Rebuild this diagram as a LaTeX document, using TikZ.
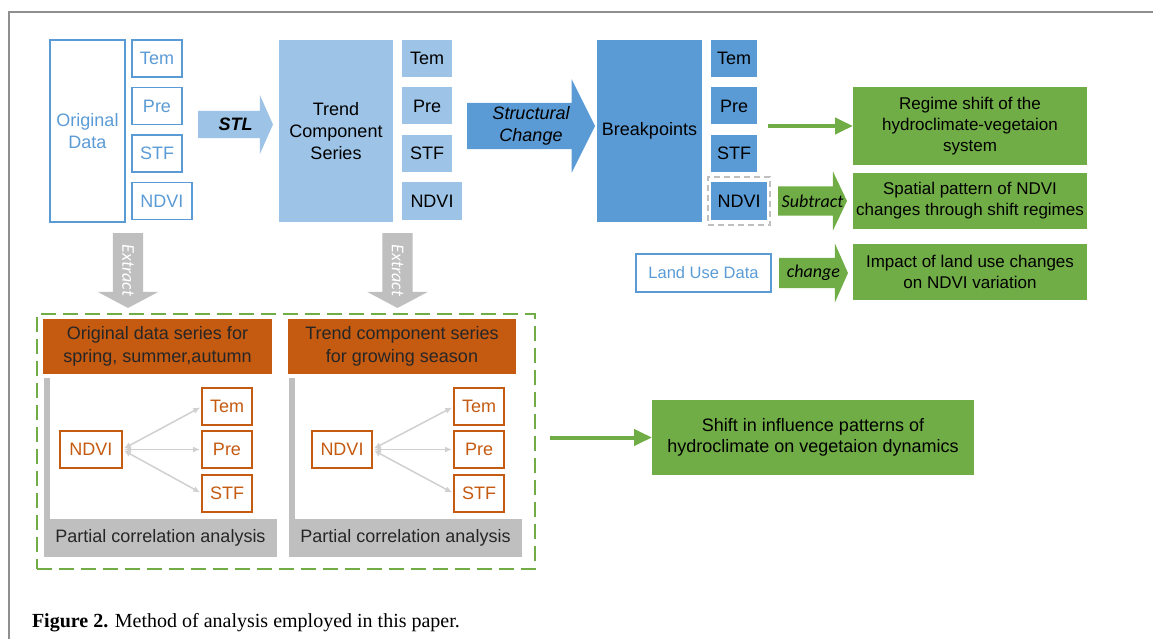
\documentclass[tikz,border=0pt]{standalone}
\usepackage{fontspec}
\setmainfont{Liberation Serif}
\setsansfont{Liberation Sans}
\newfontfamily\calfont{Carlito}
\usepackage{tikz}
\usetikzlibrary{positioning}
\usetikzlibrary{arrows.meta, shapes.arrows, calc}
\usepackage{xcolor}
\definecolor{lblue}{HTML}{9DC3E6}
\definecolor{mblue}{HTML}{5B9BD5}
\definecolor{grn}{HTML}{70AD47}
\definecolor{org}{HTML}{C55A11}
\definecolor{gry}{HTML}{BFBFBF}
\definecolor{lgry}{HTML}{D0D0D0}
\definecolor{frm}{HTML}{8F8F8F}

\begin{document}
\begin{tikzpicture}[x=1pt, y=-1pt,
  every node/.style = {font=\sffamily\fontsize{18}{21.5}\selectfont, inner sep=0, outer sep=0},
  tall/.style = {rectangle, minimum height=182, minimum width=#1, align=center},
  sm/.style = {rectangle, minimum height=37, minimum width=#1},
  sm/.default = 50,
  obox/.style = {draw=mblue, line width=1.2pt, text=mblue},
  lbox/.style = {fill=lblue},
  dbox/.style = {fill=mblue},
  gbox/.style = {fill=grn, minimum width=234, align=center, font=\sffamily\fontsize{17}{21}\selectfont},
  rbox/.style = {draw=org, line width=1.2pt, text=org, fill=white, minimum height=37},
  orbox/.style = {fill=org, text=black!85, minimum height=55, align=center, font=\sffamily\fontsize{18}{23}\selectfont},
  pcbox/.style = {fill=gry, minimum height=38, text=black!85},
  block/.style = {single arrow, inner xsep=0, anchor=tail},
  blabel/.style = {font=\calfont\itshape\fontsize{18}{21}\selectfont},
  garrow/.style = {draw=grn, line width=4pt, -{Triangle[length=18pt, width=16pt]}},
  lgarrow/.style = {draw=lgry, line width=1.5pt, {Latex[length=7pt, width=6pt]}-{Latex[length=7pt, width=6pt]}, shorten <=2pt, shorten >=2pt}]
\useasboundingbox (0,0) rectangle (1153,639);
\draw[frm, line width=1.5pt] (9,639) -- (9,12) -- (1153,12);

% original data
\node[tall=75, obox] (od) at (87.5,131) {Original\\Data};
\node[sm, obox] (t1) [right=7pt of od.north east, anchor=north west] {Tem};
\node[sm, obox] (p1) [below=10.5pt of t1] {Pre};
\node[sm, obox] (s1) [below=10.5pt of p1] {STF};
\node[sm=60, obox] (n1) [below=10.5pt of s1.south west, anchor=north west] {NDVI};

% trend component
\node[tall=114, lbox, font=\sffamily\fontsize{18}{22}\selectfont] (tc) at (336,131) {Trend\\Component\\Series};
\node[sm, lbox] (t2) [right=9pt of tc.north east, anchor=north west] {Tem};
\node[sm, lbox] (p2) [below=10.5pt of t2] {Pre};
\node[sm, lbox] (s2) [below=10.5pt of p2] {STF};
\node[sm=60, lbox] (n2) [below=10.5pt of s2.south west, anchor=north west] {NDVI};

% breakpoints
\node[tall=105, dbox] (bp) at (649.5,131) {Breakpoints};
\node[sm=46, dbox] (t3) [right=9pt of bp.north east, anchor=north west] {Tem};
\node[sm=46, dbox] (p3) [below=10.5pt of t3] {Pre};
\node[sm=46, dbox] (s3) [below=10.5pt of p3] {STF};
\node[sm=56, dbox] (n3) [below=10.5pt of s3.south west, anchor=north west] {NDVI};
\node[draw=gry, line width=1.5pt, dash pattern=on 6pt off 4pt, minimum width=62, minimum height=48] (nb) at (n3) {};

% block arrows
\node[block, fill=lblue, inner ysep=13.5, minimum height=75, single arrow head extend=16, single arrow tip angle=132] (stl) at (198,124.5) {};
\node[font=\sffamily\bfseries\itshape\fontsize{18}{21.5}\selectfont] at ($(stl.tail)!0.5!(stl.tip)$) {STL};
\node[block, fill=mblue, inner ysep=23, minimum height=128, single arrow head extend=23.5, single arrow tip angle=127] (sc) at (467,126) {};
\node[align=center, font=\sffamily\itshape\fontsize{18}{22}\selectfont] at ($(sc.tail)!0.5!(sc.tip)$) {Structural\\Change};
\node[block, fill=gry, rotate=-90, inner ysep=15, minimum height=75, single arrow head extend=15, single arrow tip angle=124] (ex1) at (128,233) {};
\node[blabel, text=white, rotate=-90] at ($(ex1.tail)!0.5!(ex1.tip)$) {Extract};
\node[block, fill=gry, rotate=-90, inner ysep=15, minimum height=75, single arrow head extend=15, single arrow tip angle=124] (ex2) at (397.5,233) {};
\node[blabel, text=white, rotate=-90] at ($(ex2.tail)!0.5!(ex2.tip)$) {Extract};

% results
\node[gbox, minimum height=78] (g1) at (970,126) {Regime shift of the\\hydroclimate-vegetaion\\system};
\node[gbox, minimum height=56] (g2) [below=8pt of g1] {Spatial pattern of NDVI\\changes through shift regimes};
\node[gbox, minimum height=56] (g3) [below=15pt of g2] {Impact of land use changes\\on NDVI variation};
\node[obox, minimum width=135, minimum height=38, font=\sffamily\fontsize{16.5}{20}\selectfont] (lu) at (703.5,273) {Land Use Data};
\draw[garrow, shorten <=11pt] (s3.east |- g1) -- (g1.west);
\node[block, fill=grn, inner ysep=14.5, minimum height=69, single arrow head extend=15, single arrow tip angle=129] (sub) at ([xshift=8pt]nb.east) {};
\node[blabel] at ($(sub.tail)!0.5!(sub.tip)$) {Subtract};
\node[block, fill=grn, inner ysep=15, minimum height=69, single arrow head extend=14.5, single arrow tip angle=132] (chg) at ([xshift=8pt]lu.east) {};
\node[blabel] at ($(chg.tail)!0.5!(chg.tip)$) {change};

% partial correlation
\node[draw=grn, line width=2.5pt, dash pattern=on 15pt off 7pt, minimum width=498, minimum height=255] (grp) at (286,441.5) {};
\node[orbox, minimum width=229] (o1) at (157.5,346.5) {Original data series for\\spring, summer,autumn};
\node[orbox, minimum width=228] (o2) at (402,346.5) {Trend component series\\for growing season};
\node[pcbox, minimum width=233] (pc1) at (160.5,538) {Partial correlation analysis};
\node[pcbox, minimum width=233] (pc2) at (405.5,538) {Partial correlation analysis};
\fill[gry] (pc1.north west) rectangle ++(6,-141);
\fill[gry] (pc2.north west) rectangle ++(6,-141);

\node[rbox, minimum width=62] (nd1) at (91,449.5) {NDVI};
\node[rbox, minimum width=50] (pr1) [right=80pt of nd1] {Pre};
\node[rbox, minimum width=50] (te1) [above=6pt of pr1] {Tem};
\node[rbox, minimum width=50] (st1) [below=7pt of pr1] {STF};
\draw[lgarrow] (nd1.east) -- (te1.west);
\draw[lgarrow] (nd1.east) -- (pr1.west);
\draw[lgarrow] (nd1.east) -- (st1.west);

\node[rbox, minimum width=60] (nd2) at (342,449.5) {NDVI};
\node[rbox, minimum width=50] (pr2) [right=82pt of nd2] {Pre};
\node[rbox, minimum width=50] (te2) [above=6pt of pr2] {Tem};
\node[rbox, minimum width=50] (st2) [below=7pt of pr2] {STF};
\draw[lgarrow] (nd2.east) -- (te2.west);
\draw[lgarrow] (nd2.east) -- (pr2.west);
\draw[lgarrow] (nd2.east) -- (st2.west);

\node[gbox, minimum width=322, minimum height=75, font=\sffamily\fontsize{18}{21.5}\selectfont] (g4) at (813,437.5) {Shift in influence patterns of\\hydroclimate on vegetaion dynamics};
\draw[garrow, shorten <=15pt] (grp.east |- g4) -- (g4.west);

% caption
\node[anchor=base west, font=\rmfamily\fontsize{20}{24}\selectfont] (cap) at (32,627) {\textbf{Figure 2.} Method of analysis employed in this paper.};
\end{tikzpicture}
\end{document}
